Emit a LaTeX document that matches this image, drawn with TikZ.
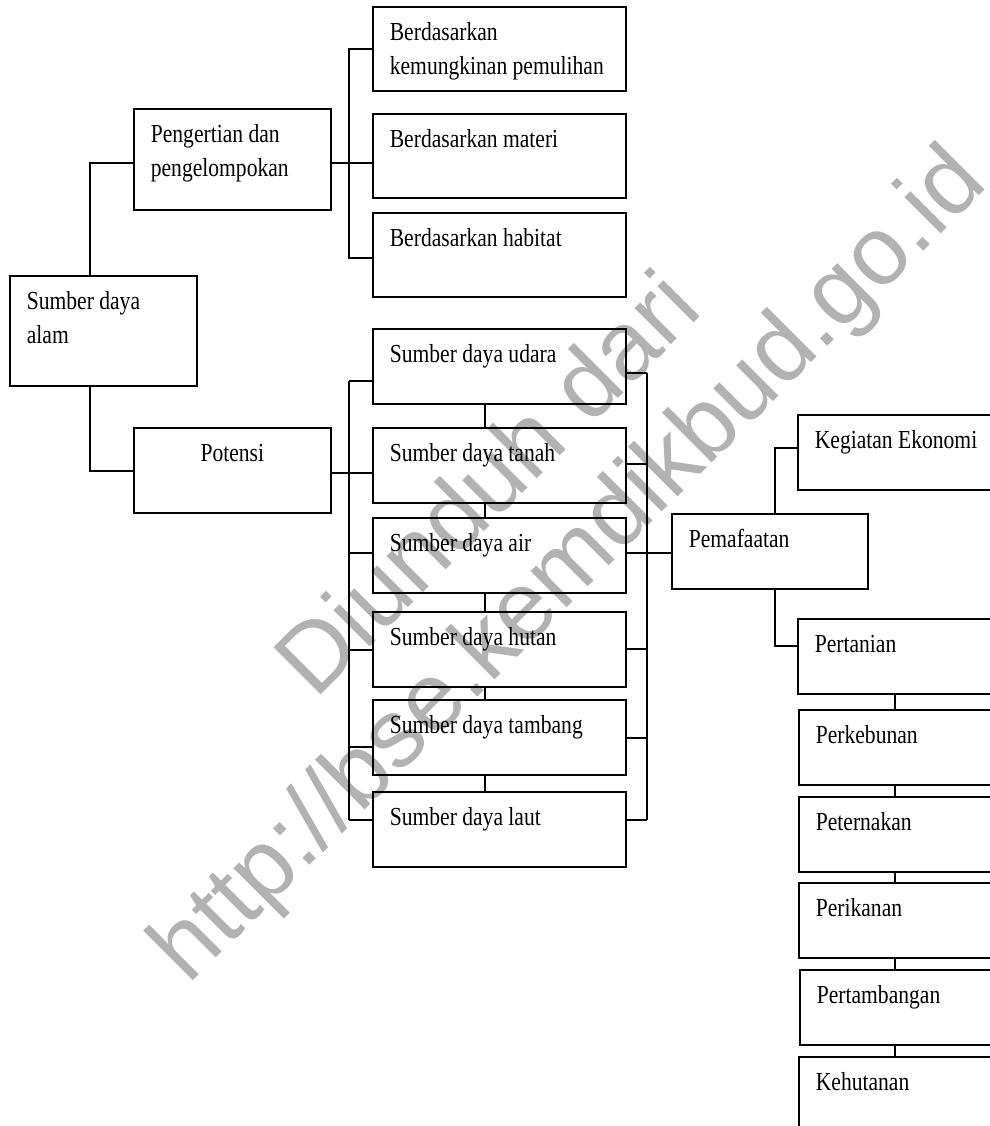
\documentclass[tikz,border=0pt]{standalone}
\usepackage{fontspec}
\setmainfont[FakeStretch=0.83]{Liberation Serif}
\newfontfamily\wmfont{Liberation Sans}

\begin{document}
\begin{tikzpicture}[x=0.5pt,y=-0.5pt]
	\useasboundingbox (0,0) rectangle (990,1126);
	\clip (0,0) rectangle (990,1126);
	% watermark behind everything
	\node[rotate=45,text=black!30,font=\wmfont\fontsize{48.5}{56}\selectfont,align=flush center] (wm) at (532,528) {Diunduh dari\\http://bse.kemdikbud.go.id};
		\begin{scope}[every node/.style={draw,line width=0.85pt,anchor=north west,inner xsep=8.5pt,inner ysep=0pt,
				text height=17pt,text depth=20.5pt,text width=109.5pt,align=flush left,font=\fontsize{13}{17}\selectfont}]
			\node[text width=76.5pt,text depth=38pt] (alam) at (9,275) {Sumber daya\\alam};
			\node[text width=81.5pt,text depth=33.5pt] (pengertian) at (133,108) {Pengertian dan\\pengelompokan};
			\node[text width=81.5pt,text depth=25.5pt,align=flush center] (potensi) at (133,427) {Potensi};
			\node[text depth=25pt] (berdA) at (372,6) {Berdasarkan\\kemungkinan pemulihan};
			\node[text depth=25pt] (berdB) at (372,113) {Berdasarkan materi};
			\node[text depth=25pt] (berdC) at (372,212) {Berdasarkan habitat};
			\node (udara) at (372,328) {Sumber daya udara};
			\node (tanah) at (372,427) {Sumber daya tanah};
			\node (air) at (372,517) {Sumber daya air};
			\node (hutan) at (372,611) {Sumber daya hutan};
			\node (tambang) at (372,699) {Sumber daya tambang};
			\node (laut) at (372,791) {Sumber daya laut};
			\node[text width=81pt] (pemafaatan) at (671,513) {Pemafaatan};
			\node (kegiatan) at (797,414) {Kegiatan Ekonomi};
			\node (pertanian) at (797,618) {Pertanian};
			\node (perkebunan) at (798,709) {Perkebunan};
			\node (peternakan) at (798,796) {Peternakan};
			\node (perikanan) at (798,882) {Perikanan};
			\node (pertambangan) at (799,969) {Pertambangan};
			\node (kehutanan) at (798,1056) {Kehutanan};
		\end{scope}
	\begin{scope}[line width=0.65pt]
			% root to its two children
			\coordinate (jPeng) at (90,163);
			\coordinate (jPot) at (90,471);
			\draw (jPeng |- alam.north) -- (jPeng) -- (jPeng -| pengertian.west);
			\draw (jPot |- alam.south) -- (jPot) -- (jPot -| potensi.west);
			% Berdasarkan ...
			\coordinate (bA) at (349,49);
			\coordinate (bB) at (349,163);
			\coordinate (bC) at (349,258);
			\draw (bA -| berdA.west) -- (bA) -- (bC) -- (bC -| berdC.west);
			\draw (bB -| pengertian.east) -- (bB -| berdB.west);
			% Sumber daya ..., left bracket
			\foreach \n/\y in {udara/381,tanah/473,air/553,hutan/650,tambang/747,laut/820}
				\coordinate (L\n) at (349,\y);
			\draw (Ludara) -- (Llaut);
			\foreach \n in {udara,tanah,air,hutan,tambang,laut}
				\draw (L\n) -- (L\n -| \n.west);
			\draw (Ltanah -| potensi.east) -- (Ltanah);
			% right bracket
			\foreach \n/\y in {udara/373,tanah/464,air/553,hutan/649,tambang/738,laut/820}
				\coordinate (R\n) at (647,\y);
			\draw (Rudara) -- (Rlaut);
			\foreach \n in {udara,tanah,air,hutan,tambang,laut}
				\draw (R\n) -- (R\n -| \n.east);
			\draw (Rair) -- (Rair -| pemafaatan.west);
			% chain between the Sumber daya boxes
			\coordinate (vS) at (485,0);
			\foreach \a/\b in {udara/tanah,tanah/air,air/hutan,hutan/tambang,tambang/laut}
				\draw (vS |- \a.south) -- (vS |- \b.north);
			% Pemafaatan
			\coordinate (pK) at (775,448);
			\coordinate (pP) at (775,646);
			\draw (pK |- pemafaatan.north) -- (pK) -- (pK -| kegiatan.west);
			\draw (pP |- pemafaatan.south) -- (pP) -- (pP -| pertanian.west);
			\coordinate (vU) at (895,0);
			\foreach \a/\b in {pertanian/perkebunan,perkebunan/peternakan,peternakan/perikanan,perikanan/pertambangan,pertambangan/kehutanan}
				\draw (vU |- \a.south) -- (vU |- \b.north);
	\end{scope}
\end{tikzpicture}
\end{document}
